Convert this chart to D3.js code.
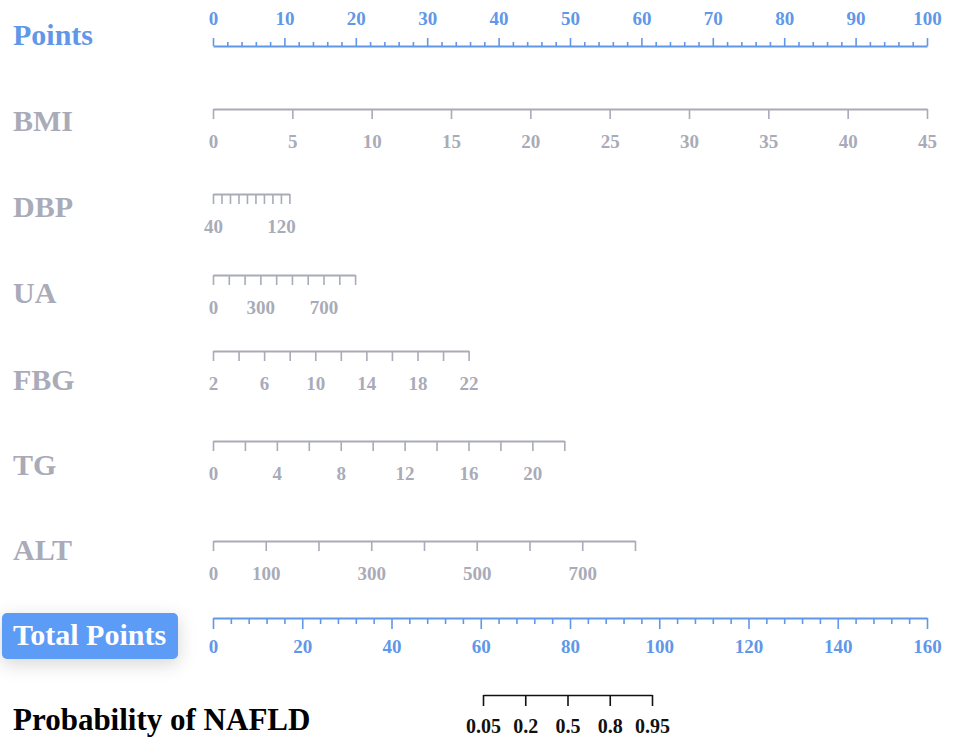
<!DOCTYPE html>
<html>
<head>
<meta charset="utf-8">
<script src="https://cdn.jsdelivr.net/npm/d3@7"></script>
<style>
  html, body { margin: 0; padding: 0; background: #ffffff; }
  svg { display: block; }
  text { font-family: "Liberation Serif", "Times New Roman", serif; font-weight: bold; }
</style>
</head>
<body>
<svg id="chart" width="955" height="739"></svg>
<script>
// ---------- data ----------
const pointsTicks = d3.range(0, 101, 2);
const pointsLabels = [0, 10, 20, 30, 40, 50, 60, 70, 80, 90, 100];

const variables = ["BMI", "DBP", "UA", "FBG", "TG", "ALT"];
const varMin    = [0, 40, 0, 2, 0, 0];
const varMax    = [45, 130, 900, 22, 22, 800];
const varMaxPts = [100, 10.7, 19.9, 35.8, 49.2, 59.1];   // points reached at each variable's maximum
const varTicks = [
  [0, 5, 10, 15, 20, 25, 30, 35, 40, 45],
  [40, 50, 60, 70, 80, 90, 100, 110, 120, 130],
  [0, 100, 200, 300, 400, 500, 600, 700, 800, 900],
  [2, 4, 6, 8, 10, 12, 14, 16, 18, 20, 22],
  [0, 2, 4, 6, 8, 10, 12, 14, 16, 18, 20, 22],
  [0, 100, 200, 300, 400, 500, 600, 700, 800]
];
const varLabels = [
  [0, 5, 10, 15, 20, 25, 30, 35, 40, 45],
  [40, 120],
  [0, 300, 700],
  [2, 6, 10, 14, 18, 22],
  [0, 4, 8, 12, 16, 20],
  [0, 100, 300, 500, 700]
];

const totalTicks = d3.range(0, 161, 4);
const totalLabels = [0, 20, 40, 60, 80, 100, 120, 140, 160];

const probLabels = ["0.05", "0.2", "0.5", "0.8", "0.95"];

// ---------- style ----------
const BLUE = "#6197e8";
const GRAY = "#a9abb8";
const BOX  = "#5b9cf7";
const titleSize = 30;
const tickFont = 19;

const svg = d3.select("#chart");

const defs = svg.append("defs");
const f = defs.append("filter").attr("id", "shadow")
  .attr("x", "-40%").attr("y", "-80%").attr("width", "180%").attr("height", "260%");
f.append("feDropShadow").attr("dx", 0).attr("dy", 5).attr("stdDeviation", 9)
  .attr("flood-color", "#000").attr("flood-opacity", 0.16);

// ---------- layout ----------
const x0 = 213, x1 = 927;
const ptsScale = d3.scaleLinear().domain([0, 100]).range([x0, x1]);

const rowLineY  = [109, 194, 275, 351, 441, 541];
const rowTitleY = [131, 217, 303, 390, 475, 560];

function styleAxis(g, color) {
  g.select(".domain").attr("stroke", color).attr("stroke-width", 2);
  g.selectAll(".tick line").attr("stroke", color).attr("stroke-width", 1.6);
  g.selectAll(".tick text").attr("fill", color).attr("font-size", tickFont)
    .attr("font-family", "Liberation Serif, Times New Roman, serif").attr("font-weight", "bold");
}

// Points axis
svg.append("text").attr("x", 13).attr("y", 45).attr("fill", BLUE)
  .attr("font-size", titleSize).text("Points");
const gp = svg.append("g").attr("transform", "translate(0,46)")
  .call(d3.axisTop(ptsScale).tickValues(pointsTicks).tickSize(4).tickSizeOuter(0)
    .tickFormat(d => pointsLabels.includes(d) ? d : ""));
styleAxis(gp, BLUE);
gp.selectAll(".tick line").attr("y2", d => pointsLabels.includes(d) ? -8 : -4);
gp.selectAll(".tick text").attr("y", -21).attr("dy", 0);

// variable axes
variables.forEach((name, i) => {
  svg.append("text").attr("x", 13).attr("y", rowTitleY[i]).attr("fill", GRAY)
    .attr("font-size", titleSize).text(name);
  const sc = d3.scaleLinear().domain([varMin[i], varMax[i]])
    .range([ptsScale(0), ptsScale(varMaxPts[i])]);
  const g = svg.append("g").attr("transform", `translate(0,${rowLineY[i]})`)
    .call(d3.axisBottom(sc).tickValues(varTicks[i]).tickSize(10).tickSizeOuter(0)
      .tickFormat(d => varLabels[i].includes(d) ? d : ""));
  styleAxis(g, GRAY);
  g.selectAll(".tick text").attr("y", 39).attr("dy", 0);
});

// Total Points
const tScale = d3.scaleLinear().domain([0, 160]).range([x0, x1]);
svg.append("rect").attr("x", 2).attr("y", 613).attr("width", 176).attr("height", 46)
  .attr("rx", 5).attr("fill", BOX).attr("filter", "url(#shadow)");
svg.append("text").attr("x", 13).attr("y", 645).attr("fill", "#ffffff")
  .attr("font-size", titleSize).text("Total Points");
const gt = svg.append("g").attr("transform", "translate(0,618)")
  .call(d3.axisBottom(tScale).tickValues(totalTicks).tickSize(6).tickSizeOuter(0)
    .tickFormat(d => totalLabels.includes(d) ? d : ""));
styleAxis(gt, BLUE);
gt.selectAll(".tick line").attr("y2", d => totalLabels.includes(d) ? 11 : 6);
gt.selectAll(".tick text").attr("y", 35).attr("dy", 0);

// Probability
svg.append("text").attr("x", 13).attr("y", 730).attr("fill", "#000")
  .attr("font-size", 31).text("Probability of NAFLD");
const pScale = d3.scalePoint().domain(probLabels).range([483, 652]);
const gpr = svg.append("g").attr("transform", "translate(0,695)")
  .call(d3.axisBottom(pScale).tickSize(11).tickSizeOuter(0));
styleAxis(gpr, "#111");
gpr.select(".domain").attr("stroke-width", 1.6);
gpr.selectAll(".tick text").attr("y", 38).attr("dy", 0).attr("fill", "#111").attr("font-size", 20);
</script>
</body>
</html>
